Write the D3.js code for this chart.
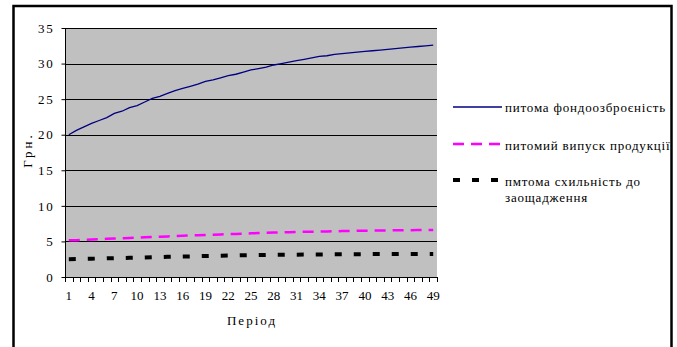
<!DOCTYPE html>
<html>
<head>
<meta charset="utf-8">
<script src="https://cdn.jsdelivr.net/npm/d3@7"></script>
<style>
  html, body { margin: 0; padding: 0; background: #fff; }
</style>
</head>
<body>
<svg id="chart" width="677" height="347"></svg>
<script>
const FONT = '"Liberation Serif"';
const FONT_SIZE = 13;

// Periods 1..49
const periods = d3.range(1, 50);

// Specific capital per worker
const capitalPerWorker = [
  20.0, 20.6, 21.1, 21.6, 22.0, 22.4, 23.0, 23.3, 23.8, 24.1,
  24.6, 25.1, 25.4, 25.8, 26.2, 26.5, 26.8, 27.1, 27.5, 27.7,
  28.0, 28.3, 28.5, 28.8, 29.1, 29.3, 29.5, 29.8, 30.0, 30.2,
  30.4, 30.6, 30.8, 31.0, 31.1, 31.3, 31.4, 31.5, 31.6, 31.7,
  31.8, 31.9, 32.0, 32.1, 32.2, 32.3, 32.4, 32.5, 32.6
];

// Specific output per worker
const outputPerWorker = [
  5.15, 5.18, 5.22, 5.28, 5.32, 5.36, 5.42, 5.45, 5.49, 5.53,
  5.57, 5.61, 5.66, 5.70, 5.74, 5.79, 5.83, 5.87, 5.91, 5.95,
  5.99, 6.03, 6.06, 6.10, 6.14, 6.17, 6.21, 6.24, 6.27, 6.30,
  6.33, 6.35, 6.37, 6.39, 6.41, 6.43, 6.45, 6.47, 6.49, 6.51,
  6.52, 6.54, 6.55, 6.56, 6.57, 6.58, 6.59, 6.60, 6.62
];

// Specific propensity to save
const savingPerWorker = [
  2.50, 2.52, 2.55, 2.57, 2.60, 2.62, 2.65, 2.67, 2.70, 2.72,
  2.75, 2.78, 2.80, 2.83, 2.85, 2.88, 2.90, 2.92, 2.95, 2.97,
  2.99, 3.01, 3.03, 3.05, 3.07, 3.08, 3.10, 3.11, 3.12, 3.13,
  3.14, 3.15, 3.16, 3.17, 3.18, 3.19, 3.19, 3.20, 3.21, 3.21,
  3.22, 3.22, 3.23, 3.23, 3.24, 3.24, 3.25, 3.25, 3.25
];

const yTicks = [0, 5, 10, 15, 20, 25, 30, 35];
const xLabelPeriods = d3.range(1, 50, 3);

const seriesNames = [
  "питома фондоозброєність",
  "питомий випуск продукції",
  "пмтома схильність до заощадження"
];

const series = [
  { name: seriesNames[0], values: capitalPerWorker, color: "#000080", width: 1.3, dash: null },
  { name: seriesNames[1], values: outputPerWorker, color: "#FF00FF", width: 2.5, dash: "11,7" },
  { name: seriesNames[2], values: savingPerWorker, color: "#000000", width: 4, dash: "7,12" }
];

const serif = sel => sel.style("font-family", FONT).style("font-size", FONT_SIZE + "px").attr("fill", "#000");

const svg = d3.select("#chart");

// outer frame
svg.append("rect")
  .attr("x", 13.5).attr("y", 6)
  .attr("width", 658).attr("height", 400)
  .attr("fill", "#fff").attr("stroke", "#000").attr("stroke-width", 2.5);

const plot = { left: 65, top: 28, right: 437, bottom: 277 };

const x = d3.scaleBand().domain(periods).range([plot.left, plot.right]);
const y = d3.scaleLinear().domain([0, 35]).range([plot.bottom, plot.top]);

// plot area
svg.append("rect")
  .attr("x", plot.left).attr("y", plot.top)
  .attr("width", plot.right - plot.left).attr("height", plot.bottom - plot.top)
  .attr("fill", "#C0C0C0");

// gridlines
svg.append("g").selectAll("line").data(yTicks.filter(d => d > 0)).join("line")
  .attr("x1", plot.left).attr("x2", plot.right)
  .attr("y1", d => Math.round(y(d)) + 0.5).attr("y2", d => Math.round(y(d)) + 0.5)
  .attr("stroke", "#000").attr("stroke-width", 1);

// y axis (labels are set a little wider)
const yAxis = svg.append("g")
  .attr("transform", `translate(${plot.left + 0.5},0)`)
  .call(d3.axisLeft(y).tickValues(yTicks).tickSize(4).tickPadding(7).tickFormat(d3.format("d")));
yAxis.select(".domain").attr("stroke", "#000").attr("d", `M0,${plot.top}V${plot.bottom}`);
yAxis.selectAll("text").call(serif).style("letter-spacing", "1.8px");

// x axis: ticks at category boundaries, labels every third period
const boundaries = periods.map(p => x(p)).concat([plot.right]);
const xg = svg.append("g");
xg.append("line")
  .attr("x1", plot.left).attr("x2", plot.right)
  .attr("y1", plot.bottom + 0.5).attr("y2", plot.bottom + 0.5)
  .attr("stroke", "#000");
xg.selectAll("line.tick").data(boundaries).join("line")
  .attr("class", "tick")
  .attr("x1", d => Math.round(d) + 0.5).attr("x2", d => Math.round(d) + 0.5)
  .attr("y1", plot.bottom).attr("y2", plot.bottom + 5)
  .attr("stroke", "#000");
xg.selectAll("text").data(xLabelPeriods).join("text")
  .attr("x", d => x(d) + x.bandwidth() / 2)
  .attr("y", 300)
  .attr("text-anchor", "middle")
  .call(serif)
  .text(d => d);

// axis titles
svg.append("text")
  .attr("x", 252).attr("y", 325)
  .attr("text-anchor", "middle")
  .call(serif)
  .style("letter-spacing", "2px")
  .text("Період");

svg.append("text")
  .attr("transform", "translate(32,150) rotate(-90)")
  .attr("text-anchor", "middle")
  .call(serif)
  .style("letter-spacing", "3px")
  .text("Грн.");

// series lines
const line = d3.line()
  .x((d, i) => x(periods[i]) + x.bandwidth() / 2)
  .y(d => y(d));

series.forEach(s => {
  svg.append("path")
    .datum(s.values)
    .attr("d", line)
    .attr("fill", "none")
    .attr("stroke", s.color)
    .attr("stroke-width", s.width)
    .attr("stroke-dasharray", s.dash);
});

// legend
const legendY = [107, 144, 180];
const lg = svg.append("g");
series.forEach((s, i) => {
  lg.append("line")
    .attr("x1", 453).attr("x2", 502)
    .attr("y1", legendY[i]).attr("y2", legendY[i])
    .attr("stroke", s.color)
    .attr("stroke-width", s.width)
    .attr("stroke-dasharray", s.dash);
});
const legendText = sel => sel.call(serif).style("letter-spacing", "0.8px");
lg.append("text").attr("x", 505).attr("y", legendY[0] + 5).call(legendText).text(seriesNames[0]);
lg.append("text").attr("x", 505).attr("y", legendY[1] + 6).call(legendText).text(seriesNames[1]);
const t3 = lg.append("text").attr("x", 505).attr("y", legendY[2] + 6).call(legendText);
t3.append("tspan").attr("x", 505).text("пмтома схильність до");
t3.append("tspan").attr("x", 505).attr("dy", 16).text("заощадження");
</script>
</body>
</html>
